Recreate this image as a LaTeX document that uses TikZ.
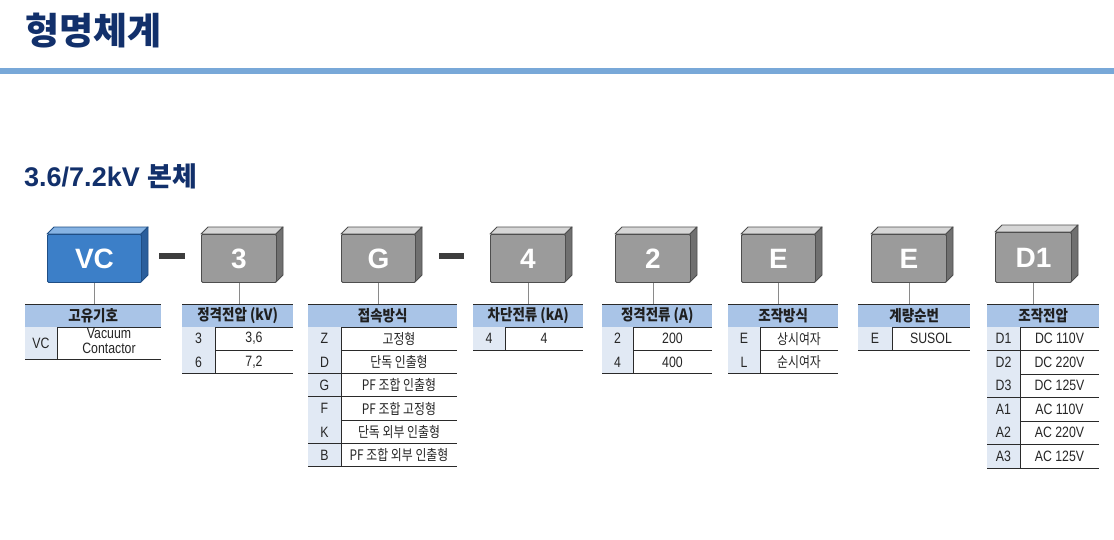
\documentclass[tikz,border=0pt]{standalone}
\usepackage{fontspec}
\setmainfont{Liberation Sans}
\newfontfamily\kr{Noto Sans CJK KR}
\newfontfamily\cellfont[FakeStretch=0.82]{Liberation Sans}
\newfontfamily\krc[FakeStretch=0.87]{Noto Sans CJK KR}
\newfontfamily\krv[FakeStretch=0.82]{Noto Sans CJK KR}
\definecolor{navy}{HTML}{12306B}
\definecolor{barblue}{HTML}{78A8D8}
\definecolor{hdrblue}{HTML}{A9C4E7}
\definecolor{cellblue}{HTML}{E1E9F4}
\definecolor{linegray}{HTML}{2A2A2A}
\definecolor{txtgray}{HTML}{262626}
\definecolor{conngray}{HTML}{8A8A8A}
\definecolor{dashgray}{HTML}{3D3D3D}
\definecolor{vcfront}{HTML}{3C7FC8}
\definecolor{vctop}{HTML}{86B3E3}
\definecolor{vcside}{HTML}{2A5E9C}
\definecolor{vcedge}{HTML}{1F4E85}
\definecolor{gfront}{HTML}{9B9B9B}
\definecolor{gtop}{HTML}{D6D6D6}
\definecolor{gside}{HTML}{707070}
\definecolor{gedge}{HTML}{4E4E4E}
\tikzset{
  face/.style={line width=0.9pt, line join=round},
  boxface/.style={face, inner sep=0pt, rounded corners=1.2pt, text=white,
    font=\fontsize{28}{28}\selectfont\bfseries},
  hdrcell/.style={fill=hdrblue, inner sep=0pt, minimum height=23pt,
    font=\krc\fontsize{15.5}{17}\selectfont\bfseries, text=black!88},
  tline/.style={draw=linegray, line width=1pt},
  celltext/.style={inner sep=0pt, text=txtgray, font=\cellfont\fontsize{15}{16}\selectfont},
  krtext/.style={font=\krv\fontsize{14.5}{16}\selectfont},
  conn/.style={draw=conngray, line width=0.8pt},
  dashbar/.style={draw=dashgray, line width=6pt}
}
% #1 name, #2 x0, #3 y0, #4 x1, #5 y1, #6 colour prefix, #7 text
\newcommand\codebox[7]{%
  \filldraw[face, fill=#6top, draw=#6edge] (#2,#3+7) -- (#2+7,#3) -- (#4,#3) -- (#4-7,#3+7) -- cycle;
  \filldraw[face, fill=#6side, draw=#6edge] (#4-7,#3+7) -- (#4,#3) -- (#4,#5-7) -- (#4-7,#5) -- cycle;
  \node[boxface, fill=#6front, draw=#6edge, minimum width={(#4-7-#2)*1pt},
    minimum height={(#5-#3-7)*1pt}, anchor=north west] (#1) at (#2,#3+7) {#7};
}
% #1 name, #2 xl, #3 xr, #4 text
\newcommand\thead[4]{%
  \node[hdrcell, minimum width={(#3-#2)*1pt}, anchor=north west] (#1) at (#2,304) {#4};
  \draw[tline] (#2,304) -- (#3,304);
  \draw[tline] (#2,327) -- (#3,327);
}
% #1 name, #2 xl, #3 xc, #4 xr, #5 yt, #6 yb, #7 code, #8 value
\newcommand\trow[8]{%
  \fill[cellblue] (#2,#5) rectangle (#3,#6);
  \node[celltext] (#1c) at ({(#2+#3)/2},{(#5+#6)/2}) {#7};
  \node[celltext, \rowstyle] (#1v) at ({(#3+#4)/2},{(#5+#6)/2}) {#8};
  \draw[tline] (#2,#6) -- (#4,#6);
  \draw[tline] (#3,#5) -- (#3,#6);
}
\def\rowstyle{}
\begin{document}
\begin{tikzpicture}[x=1pt,y=-1pt]
\useasboundingbox (0,0) rectangle (1114,539);
\fill[white] (0,0) rectangle (1114,539);

% titles
\node[anchor=west, inner sep=0pt, text=navy, font=\kr\fontsize{37}{37}\selectfont\bfseries] (title) at (25,31) {형명체계};
\fill[barblue] (0,68) rectangle (1114,74);
\node[anchor=west, inner sep=0pt, text=navy, font=\fontsize{27}{27}\selectfont\bfseries] (sub) at (24,176) {3.6/7.2kV {\kr\fontsize{27}{27}\selectfont 본체}};

% code boxes
\codebox{bVC}{47}{227}{148}{282}{vc}{VC}
\codebox{b3}{201}{227}{283}{282}{g}{3}
\codebox{bG}{341}{227}{422}{282}{g}{G}
\codebox{b4}{490}{227}{572}{282}{g}{4}
\codebox{b2}{615}{227}{697}{282}{g}{2}
\codebox{bE}{741}{227}{822}{282}{g}{E}
\codebox{bS}{871}{227}{953}{282}{g}{E}
\codebox{bD}{995}{225}{1078}{282}{g}{D1}

% dashes
\coordinate (d1a) at (159,256); \coordinate (d1b) at (185,256);
\coordinate (d2a) at (439,256); \coordinate (d2b) at (464,256);
\draw[dashbar] (d1a) -- (d1b);
\draw[dashbar] (d2a) -- (d2b);

% table 1
\thead{hVC}{25}{161}{고유기호}
\trow{rVC}{25}{57}{161}{327}{359}{VC}{\begin{tabular}{@{}c@{}}Vacuum\\[-1pt]Contactor\end{tabular}}
% table 2
\thead{h3}{182}{293}{정격전압 (kV)}
\trow{r3a}{182}{215}{293}{327}{350.3}{3}{3,6}
\trow{r3b}{182}{215}{293}{350.3}{373.6}{6}{7,2}
% table 3
\def\rowstyle{krtext}
\thead{hG}{308}{457}{접속방식}
\trow{rGa}{308}{341}{457}{327}{350.3}{Z}{고정형}
\trow{rGb}{308}{341}{457}{350.3}{373.6}{D}{단독 인출형}
\trow{rGc}{308}{341}{457}{373.6}{396.9}{G}{PF 조합 인출형}
\trow{rGd}{308}{341}{457}{396.9}{420.2}{F}{PF 조합 고정형}
\trow{rGe}{308}{341}{457}{420.2}{443.5}{K}{단독 외부 인출형}
\trow{rGf}{308}{341}{457}{443.5}{466.8}{B}{PF 조합 외부 인출형}
\def\rowstyle{}
% table 4
\thead{h4}{473}{583}{차단전류 (kA)}
\trow{r4a}{473}{505}{583}{327}{350.3}{4}{4}
% table 5
\thead{h2}{602}{712}{정격전류 (A)}
\trow{r2a}{602}{633}{712}{327}{350.3}{2}{200}
\trow{r2b}{602}{633}{712}{350.3}{373.6}{4}{400}
% table 6
\def\rowstyle{krtext}
\thead{hE}{728}{838}{조작방식}
\trow{rEa}{728}{760}{838}{327}{350.3}{E}{상시여자}
\trow{rEb}{728}{760}{838}{350.3}{373.6}{L}{순시여자}
\def\rowstyle{}
% table 7
\thead{hS}{858}{970}{계량순번}
\trow{rSa}{858}{892}{970}{327}{350.3}{E}{SUSOL}
% table 8
\thead{hD}{987}{1099}{조작전압}
\trow{rDa}{987}{1020}{1099}{327}{350.5}{D1}{DC 110V}
\trow{rDb}{987}{1020}{1099}{350.5}{374}{D2}{DC 220V}
\trow{rDc}{987}{1020}{1099}{374}{397.5}{D3}{DC 125V}
\trow{rDd}{987}{1020}{1099}{397.5}{421}{A1}{AC 110V}
\trow{rDe}{987}{1020}{1099}{421}{444.5}{A2}{AC 220V}
\trow{rDf}{987}{1020}{1099}{444.5}{468}{A3}{AC 125V}

% connectors
\foreach \b/\h in {bVC/hVC, b3/h3, bG/hG, b4/h4, b2/h2, bE/hE, bS/hS, bD/hD}
  \draw[conn] (\b.south) -- (\b.south |- \h.north);
\end{tikzpicture}
\end{document}
